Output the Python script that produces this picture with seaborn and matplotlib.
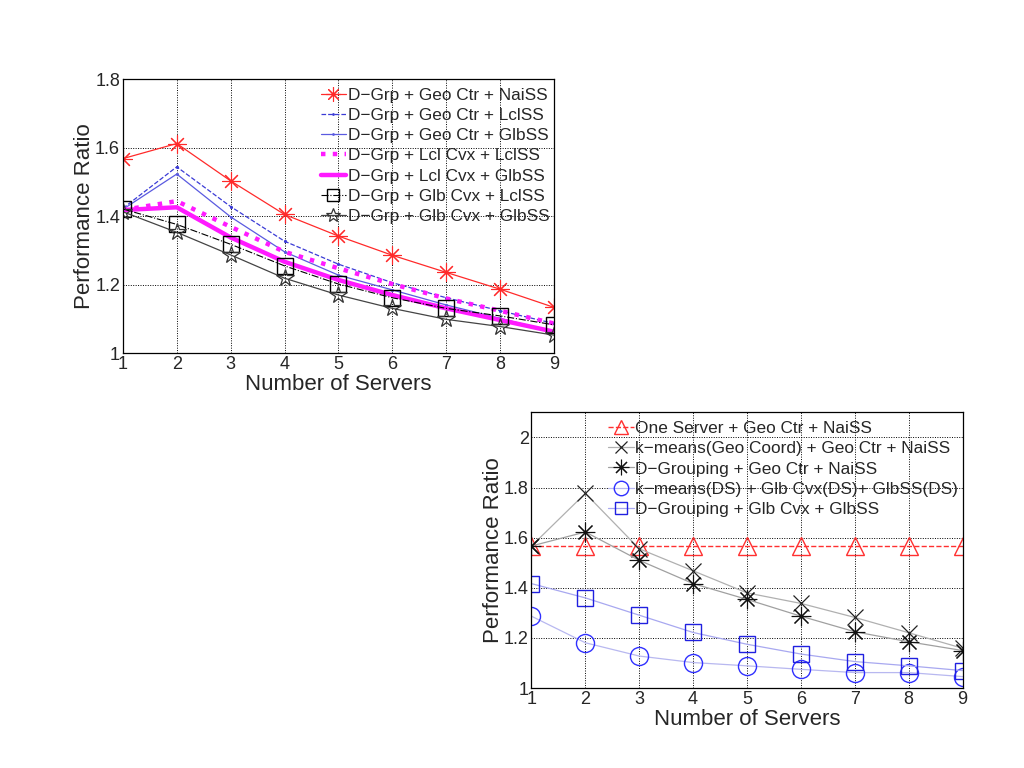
import numpy as np
import pandas as pd
import matplotlib
matplotlib.use("Agg")
import matplotlib.pyplot as plt
from matplotlib.ticker import FormatStrFormatter
import seaborn as sns

# Данные: верхний график
servers = [1, 2, 3, 4, 5, 6, 7, 8, 9]

grp_geo_nai = [1.568, 1.612, 1.503, 1.405, 1.342, 1.286, 1.236, 1.187, 1.134]
grp_geo_lcl = [1.423, 1.544, 1.428, 1.327, 1.260, 1.206, 1.162, 1.124, 1.087]
grp_geo_glb = [1.420, 1.523, 1.398, 1.296, 1.228, 1.185, 1.141, 1.102, 1.063]
grp_lcl_lcl = [1.418, 1.444, 1.369, 1.296, 1.248, 1.202, 1.160, 1.124, 1.087]
grp_lcl_glb = [1.418, 1.426, 1.338, 1.267, 1.214, 1.170, 1.131, 1.097, 1.063]
grp_glb_lcl = [1.421, 1.376, 1.318, 1.255, 1.202, 1.162, 1.131, 1.109, 1.083]
grp_glb_glb = [1.413, 1.353, 1.287, 1.219, 1.170, 1.131, 1.099, 1.078, 1.053]

top_labels = [
    'D\u2212Grp + Geo Ctr + NaiSS',
    'D\u2212Grp + Geo Ctr + LclSS',
    'D\u2212Grp + Geo Ctr + GlbSS',
    'D\u2212Grp + Lcl Cvx + LclSS',
    'D\u2212Grp + Lcl Cvx + GlbSS',
    'D\u2212Grp + Glb Cvx + LclSS',
    'D\u2212Grp + Glb Cvx + GlbSS',
]

# Данные: нижний график
one_server = [1.567, 1.567, 1.567, 1.567, 1.567, 1.567, 1.567, 1.567, 1.567]
kmeans_geo = [1.567, 1.777, 1.556, 1.468, 1.380, 1.338, 1.282, 1.221, 1.159]
dgroup_geo = [1.567, 1.623, 1.510, 1.417, 1.354, 1.287, 1.225, 1.185, 1.150]
kmeans_ds = [1.287, 1.181, 1.128, 1.102, 1.089, 1.075, 1.062, 1.062, 1.046]
dgroup_glb = [1.417, 1.360, 1.291, 1.222, 1.175, 1.136, 1.106, 1.089, 1.070]

bottom_labels = [
    'One Server + Geo Ctr + NaiSS',
    'k\u2212means(Geo Coord) + Geo Ctr + NaiSS',
    'D\u2212Grouping + Geo Ctr + NaiSS',
    'k\u2212means(DS) + Glb Cvx(DS)+ GlbSS(DS)',
    'D\u2212Grouping + Glb Cvx + GlbSS',
]

sns.set_style("white")
plt.rcParams['font.family'] = ['Liberation Sans', 'DejaVu Sans']

fig = plt.figure(figsize=(10.24, 7.68), dpi=100)
ax1 = fig.add_axes([0.120, 0.540, 0.421, 0.357])
ax2 = fig.add_axes([0.519, 0.104, 0.421, 0.359])

top_styles = [
    dict(color='#ff2a2a', marker=(8, 2, 0), markersize=13, mec='#ff2a2a', mew=0.8,
         lw=0.9, linestyle='-'),
    dict(color='#3b3bd6', marker='.', markersize=3, mec='#3b3bd6', lw=0.9, linestyle='--'),
    dict(color='#5a5ae0', marker='.', markersize=3, mec='#5a5ae0', lw=0.9, linestyle='-'),
    dict(color='#ff1aff', marker=None, lw=3.2, linestyle=':'),
    dict(color='#ff1aff', marker=None, lw=3.2, linestyle='-'),
    dict(color='black', marker='s', markersize=11, mfc='none', mec='black', mew=1.0,
         lw=0.8, linestyle='-.'),
    dict(color='#444444', marker='*', markersize=13, mfc='none', mec='#333333', mew=0.9,
         lw=0.9, linestyle='-'),
]
top_series = [grp_geo_nai, grp_geo_lcl, grp_geo_glb, grp_lcl_lcl,
              grp_lcl_glb, grp_glb_lcl, grp_glb_glb]

for vals, lab, st in zip(top_series, top_labels, top_styles):
    df = pd.DataFrame({'x': servers, 'y': vals})
    sns.lineplot(data=df, x='x', y='y', ax=ax1, label=lab, **st)

bottom_styles = [
    dict(color='#ff3030', marker='^', markersize=13, mfc='none', mec='#ff3030', mew=1.0,
         lw=1.0, linestyle='--'),
    dict(color='#b0b0b0', marker='x', markersize=11, mec='#222222', mew=0.9, lw=0.9,
         linestyle='-'),
    dict(color='#a0a0a0', marker=(8, 2, 0), markersize=14, mec='#111111', mew=0.8, lw=0.9,
         linestyle='-'),
    dict(color='#b8b8f0', marker='o', markersize=13, mfc='none', mec='#3030ff', mew=1.0,
         lw=0.9, linestyle='-'),
    dict(color='#a8a8f0', marker='s', markersize=11, mfc='none', mec='#2020e0', mew=1.0,
         lw=0.9, linestyle='-'),
]
bottom_series = [one_server, kmeans_geo, dgroup_geo, kmeans_ds, dgroup_glb]

for vals, lab, st in zip(bottom_series, bottom_labels, bottom_styles):
    df = pd.DataFrame({'x': servers, 'y': vals})
    sns.lineplot(data=df, x='x', y='y', ax=ax2, label=lab, **st)

for ax, ylim, yticks in [(ax1, (1, 1.8), [1, 1.2, 1.4, 1.6, 1.8]),
                         (ax2, (1, 2.1), [1, 1.2, 1.4, 1.6, 1.8, 2])]:
    ax.set_xlim(1, 9)
    ax.set_ylim(*ylim)
    ax.set_xticks(servers)
    ax.set_yticks(yticks)
    ax.yaxis.set_major_formatter(FormatStrFormatter('%g'))
    ax.grid(True, linestyle=(0, (1, 1.5)), color='black', lw=0.7)
    ax.set_axisbelow(True)
    ax.tick_params(axis='both', direction='in', length=3, labelsize=13, pad=2)
    for sp in ax.spines.values():
        sp.set_color('black')
        sp.set_linewidth(0.9)
    ax.set_xlabel('Number of Servers', fontsize=16, labelpad=1)
    ax.set_ylabel('Performance Ratio', fontsize=16, labelpad=0)

for ax in (ax1, ax2):
    ax.legend(loc='upper right', bbox_to_anchor=(1.01, 1.0), frameon=False,
              fontsize=12.4, handlelength=1.5, handletextpad=0.1, labelspacing=0.3,
              borderaxespad=0.3, borderpad=0.2, markerscale=0.8)

fig.savefig('out.png', dpi=100, facecolor='white')
